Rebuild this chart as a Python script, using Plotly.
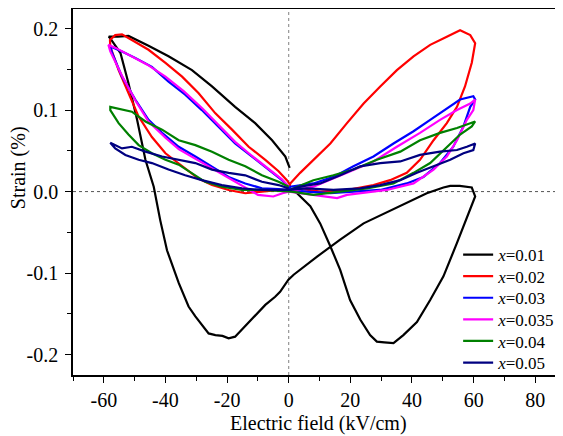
import plotly.graph_objects as go

# ---- data (Electric field kV/cm, Strain %) ----
labels = ["<i>x</i>=0.01", "<i>x</i>=0.02", "<i>x</i>=0.03", "<i>x</i>=0.035", "<i>x</i>=0.04", "<i>x</i>=0.05"]
colors = ["#000000", "#FF0000", "#0000FF", "#FF00FF", "#008000", "#000080"]

e001 = [0.8, 2.7, 7, 10.2, 13.5, 16.7, 19.9, 23.2, 26.4, 28.6, 31, 34, 37.2, 41.6, 45.9, 50.2, 54.6, 57.8, 60.5, 59.4,
        55.5, 52.4, 50.2, 44.8, 38.3, 31.8, 24.3, 16.7, 9.1, 1.6, -0.1, -2.8, -4.4, -7.6, -13, -17.4, -19.5, -21.5,
        -23.8, -26, -30.3, -32.5, -35.7, -39.5, -41.7, -43.8, -46.5, -49.2, -52, -54.6, -57.9, -58.4, -55.5, -52,
        -45.5, -39, -31.4, -24.9, -17.4, -10.9, -5.4, -1.1, 0.3]
s001 = [0.004, -0.002, -0.018, -0.039, -0.067, -0.096, -0.133, -0.157, -0.176, -0.184, -0.185, -0.186, -0.176, -0.16,
        -0.133, -0.104, -0.063, -0.031, -0.006, 0.005, 0.007, 0.007, 0.005, -0.002, -0.014, -0.025, -0.039, -0.059,
        -0.08, -0.102, -0.108, -0.123, -0.129, -0.139, -0.16, -0.178, -0.18, -0.177, -0.176, -0.174, -0.153, -0.141,
        -0.112, -0.072, -0.035, 0.006, 0.039, 0.088, 0.133, 0.17, 0.188, 0.19, 0.19, 0.191, 0.179, 0.166, 0.149,
        0.129, 0.104, 0.084, 0.063, 0.043, 0.029]

e002 = [0.3, 0.5, 3.7, 8, 13.5, 18.9, 24.3, 29.7, 35.1, 40.5, 45.9, 51.3, 55.6, 58.9, 60.5, 59.4, 57.2, 54.6, 51.3, 47,
        42.6, 38.3, 32.9, 27.5, 18.9, 10.2, 3, 0, -3.3, -8.7, -14.1, -19.5, -24.9, -29.3, -34.6, -40, -44.4, -48.7,
        -52, -55.2, -57.9, -58, -56.3, -54.1, -50.9, -45.5, -40, -34.6, -29.3, -23.8, -18.4, -13, -7.6, -3.3, -0.6, 0.5]
s002 = [0.006, 0.010, 0.023, 0.039, 0.059, 0.084, 0.108, 0.129, 0.149, 0.166, 0.18, 0.19, 0.198, 0.192, 0.182, 0.158,
        0.129, 0.104, 0.084, 0.063, 0.039, 0.023, 0.014, 0.008, 0.002, 0.0, 0.004, 0.002, 0.002, 0.0, -0.002, 0.002,
        0.008, 0.016, 0.031, 0.047, 0.067, 0.092, 0.121, 0.149, 0.178, 0.186, 0.192, 0.193, 0.186, 0.174, 0.158,
        0.141, 0.121, 0.096, 0.076, 0.055, 0.039, 0.025, 0.014, 0.008]

e003 = [0, 0.5, 8, 14.5, 21, 27.5, 34, 40.5, 45.9, 51.3, 55.6, 59.9, 60.5, 58.9, 56.7, 53.4, 49.1, 43.7, 38.3, 29.7,
        21, 13.5, 5.9, 0, -3.3, -8.7, -14.1, -19.5, -24.9, -30.3, -35.7, -41.1, -45.5, -49.8, -54.1, -57.3, -57.9,
        -54.1, -49.8, -44.4, -39, -33.6, -28.2, -22.8, -17.4, -11.9, -6.6, -2.2, 0]
s003 = [0.002, 0.006, 0.010, 0.018, 0.031, 0.043, 0.059, 0.074, 0.088, 0.102, 0.113, 0.117, 0.113, 0.104, 0.08, 0.055,
        0.035, 0.018, 0.010, 0.002, 0.0, -0.002, 0.0, 0.002, 0.003, 0.004, 0.010, 0.018, 0.031, 0.043, 0.055, 0.072,
        0.088, 0.113, 0.141, 0.17, 0.178, 0.172, 0.164, 0.153, 0.135, 0.119, 0.1, 0.08, 0.059, 0.043, 0.027, 0.014,
        0.006]

e0035 = [0, 8, 18.9, 27.5, 35.1, 42.6, 49.1, 54.6, 58.9, 60.5, 59.9, 57.8, 54.6, 51.3, 47, 40.5, 31.8, 24.3, 18.9,
         15.7, 8, 0, -2, -5, -10, -14.1, -19.5, -24.9, -30.3, -35.7, -40, -45.5, -49.8, -54.1, -57.9, -58.5, -56,
         -52, -46, -40, -34, -28, -22.8, -17.4, -12, -6.6, -2.2, 0]
s0035 = [0.0, 0.006, 0.023, 0.037, 0.055, 0.072, 0.088, 0.1, 0.108, 0.113, 0.1, 0.088, 0.063, 0.043, 0.027, 0.010,
         0.002, -0.002, -0.004, -0.008, -0.004, 0.0, -0.002, -0.006, -0.004, 0.005, 0.016, 0.028, 0.04, 0.052, 0.066,
         0.086, 0.112, 0.142, 0.172, 0.18, 0.176, 0.168, 0.156, 0.141, 0.123, 0.102, 0.082, 0.061, 0.044, 0.028,
         0.015, 0.006]

e004 = [0, 0.9, 8, 14.5, 21, 28.6, 36.2, 42.6, 49.1, 54.6, 60.5, 59.4, 55.6, 51.3, 45.9, 40.5, 34, 25.4, 16.7, 8, 0.9,
        -8.7, -15.2, -21.7, -27.1, -31.4, -35.7, -40, -44.4, -48.7, -52, -55.2, -57.9, -57.9, -55.2, -50.9, -46.5,
        -41.1, -35.7, -30.3, -24.9, -19.5, -14.1, -8.7, -3.3, 0]
s004 = [0.0, 0.003, 0.014, 0.020, 0.027, 0.039, 0.049, 0.063, 0.072, 0.078, 0.086, 0.08, 0.07, 0.055, 0.035, 0.023,
        0.010, 0.004, 0.0, -0.004, 0.0, 0.002, 0.002, 0.006, 0.012, 0.023, 0.033, 0.039, 0.047, 0.057, 0.07, 0.084,
        0.1, 0.104, 0.102, 0.098, 0.086, 0.076, 0.063, 0.057, 0.049, 0.039, 0.031, 0.020, 0.012, 0.006]

e005 = [0, 3.7, 10.2, 16.7, 23.2, 29.7, 36.2, 42.6, 49.1, 54.6, 57.8, 60.5, 59.9, 56.7, 52.4, 47, 41.6, 36.2, 29.7,
        23.2, 14.5, 5.9, 0, -8.7, -15.2, -21.7, -28.2, -33.6, -39, -44.4, -48.7, -53, -56.3, -57.9, -54.1, -50.9,
        -46.5, -41.1, -35.7, -30.3, -24.9, -19.5, -14.1, -8.7, -3.3, 0]
s005 = [0.002, 0.006, 0.010, 0.020, 0.031, 0.035, 0.037, 0.045, 0.049, 0.051, 0.055, 0.059, 0.051, 0.047, 0.039, 0.031,
        0.023, 0.014, 0.008, 0.004, 0.002, 0.004, 0.002, 0.002, 0.004, 0.008, 0.014, 0.020, 0.027, 0.035, 0.039,
        0.045, 0.053, 0.060, 0.053, 0.055, 0.049, 0.043, 0.039, 0.035, 0.027, 0.023, 0.020, 0.012, 0.008, 0.004]

fields = [e001, e002, e003, e0035, e004, e005]
strains = [s001, s002, s003, s0035, s004, s005]

x_tickvals = [-60, -40, -20, 0, 20, 40, 60, 80]
x_ticktext = ["-60", "-40", "-20", "0", "20", "40", "60", "80"]
y_tickvals = [-0.2, -0.1, 0.0, 0.1, 0.2]
y_ticktext = ["-0.2", "-0.1", "0.0", "0.1", "0.2"]

FONT = "Liberation Serif"

# page has an 8px body margin; figure is sized to fit the window
W, H = 555, 428
ML, MR, MT, MB = 65.3, 0, 1, 61
plot_h = H - MT - MB
plot_w = W - ML - MR

# legend entry centres (page px) -> each trace gets its own legend for tight spacing
entry_page_y = [255, 276.6, 298.2, 319.8, 341.4, 363]

fig = go.Figure()
legend_layouts = {}
for i, (xs, ys, name, c) in enumerate(zip(fields, strains, labels, colors)):
    lg = "legend" if i == 0 else f"legend{i + 1}"
    fig.add_trace(go.Scatter(x=xs, y=ys, mode="lines", name=name, legend=lg,
                             line=dict(color=c, width=2.2)))
    fy = entry_page_y[i] - 8 - MT
    legend_layouts[lg] = dict(x=0.786, y=1 - fy / plot_h, xanchor="left", yanchor="middle",
                              bgcolor="rgba(0,0,0,0)", borderwidth=0,
                              font=dict(family=FONT, size=17, color="black"), itemwidth=30)

fig.update_layout(
    width=W, height=H,
    margin=dict(l=ML, r=MR, t=MT, b=MB, autoexpand=False),
    paper_bgcolor="white", plot_bgcolor="white",
    font=dict(family=FONT, size=20, color="black"),
    showlegend=True,
    xaxis=dict(range=[-70, 89], tickvals=x_tickvals, ticktext=x_ticktext,
               showgrid=False, zeroline=False, showline=True, linecolor="black",
               linewidth=1.5, mirror=True, ticks="outside", ticklen=6, tickwidth=1.3,
               tickcolor="black", tickfont=dict(family=FONT, size=20),
               minor=dict(dtick=10, tick0=0, ticks="outside", ticklen=4, tickwidth=1.3,
                          tickcolor="black", showgrid=False)),
    yaxis=dict(range=[-0.225, 0.224], tickvals=y_tickvals, ticktext=y_ticktext,
               showgrid=False, zeroline=False, showline=True, linecolor="black",
               linewidth=1.5, ticks="outside", ticklen=6, tickwidth=1.3, tickcolor="black",
               ticklabelstandoff=3, tickfont=dict(family=FONT, size=20),
               minor=dict(dtick=0.05, tick0=0, ticks="outside", ticklen=4, tickwidth=1.3,
                          tickcolor="black", showgrid=False)),
    **legend_layouts,
)

# dashed reference lines at zero
fig.add_shape(type="line", xref="x", yref="paper", x0=0, x1=0, y0=0, y1=1,
              line=dict(color="#808080", width=1, dash="3px,3px"), layer="below")
fig.add_shape(type="line", xref="paper", yref="y", x0=0, x1=1, y0=0, y1=0,
              line=dict(color="#555555", width=1, dash="3px,3px"), layer="below")

# axis titles
fig.add_annotation(text="Electric field (kV/cm)", xref="paper", yref="paper",
                   x=0.5, y=-48.5 / plot_h, xanchor="center", yanchor="middle", showarrow=False,
                   font=dict(family=FONT, size=20))
fig.add_annotation(text="Strain (%)", xref="paper", yref="paper",
                   x=(11.5 - ML) / plot_w, y=0.5656, xanchor="center", yanchor="middle", textangle=-90,
                   showarrow=False, font=dict(family=FONT, size=20))

fig.write_html("out.html")
